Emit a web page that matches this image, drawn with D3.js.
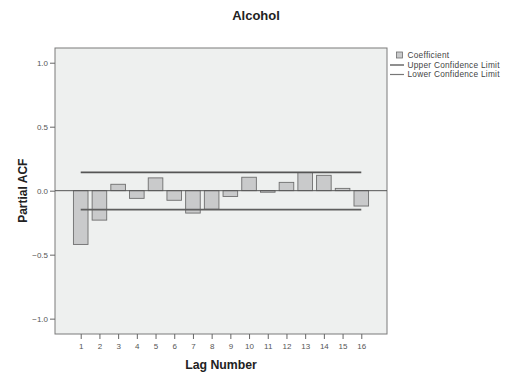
<!DOCTYPE html>
<html>
<head>
<meta charset="utf-8">
<script src="https://cdn.jsdelivr.net/npm/d3@7"></script>
<style>
  body { margin: 0; background: #fff; }
  text { font-family: "Liberation Sans", Arial, sans-serif; }
</style>
</head>
<body>
<div id="chart"></div>
<script>
// lag numbers and partial ACF coefficients
const lags = [1, 2, 3, 4, 5, 6, 7, 8, 9, 10, 11, 12, 13, 14, 15, 16]
const coefficients = [-0.42, -0.23, 0.05, -0.06, 0.10, -0.075, -0.175, -0.145, -0.045, 0.105, -0.012, 0.065, 0.142, 0.12, 0.018, -0.12]
const upperLimit = [0.143]
const lowerLimit = [-0.148]
const yTicks = [-1.0, -0.5, 0.0, 0.5, 1.0]
const legendItems = ['Coefficient', 'Upper Confidence Limit', 'Lower Confidence Limit']

const width = 508, height = 377
const margin = { left: 55, top: 48, right: 121, bottom: 43 }

const svg = d3.select('#chart')
    .append('svg')
    .attr('width', width)
    .attr('height', height)

const x = d3.scalePoint()
    .domain(lags)
    .range([margin.left, width - margin.right])
    .padding(1.375)

const y = d3.scaleLinear()
    .domain([-1.12, 1.115])
    .range([height - margin.bottom, margin.top])

const barW = x.step() * 0.78

// plot background
svg.append('rect')
    .attr('x', margin.left)
    .attr('y', margin.top)
    .attr('width', width - margin.left - margin.right)
    .attr('height', height - margin.top - margin.bottom)
    .attr('fill', '#eef0ef')
    .attr('stroke', '#7a7a7a')
    .attr('stroke-width', 1)

// bars
svg.append('g')
    .selectAll('rect')
    .data(coefficients)
    .join('rect')
    .attr('x', (d, i) => x(lags[i]) - barW / 2)
    .attr('y', d => y(Math.max(0, d)))
    .attr('width', barW)
    .attr('height', d => Math.max(1, Math.abs(y(d) - y(0))))
    .attr('fill', '#c9cacb')
    .attr('stroke', '#6e6e6e')
    .attr('stroke-width', 0.9)

// zero reference line
svg.append('line')
    .attr('x1', margin.left)
    .attr('x2', width - margin.right)
    .attr('y1', y(0))
    .attr('y2', y(0))
    .attr('stroke', '#555')
    .attr('stroke-width', 1)

// confidence limits
const limits = [
    { v: upperLimit[0], color: '#555' },
    { v: lowerLimit[0], color: '#5e5e5e' }
]
svg.append('g')
    .selectAll('line')
    .data(limits)
    .join('line')
    .attr('x1', x(lags[0]))
    .attr('x2', x(lags[lags.length - 1]))
    .attr('y1', d => y(d.v))
    .attr('y2', d => y(d.v))
    .attr('stroke', d => d.color)
    .attr('stroke-width', 1.6)

// axes
const yAxis = svg.append('g')
    .attr('transform', `translate(${margin.left},0)`)
    .call(d3.axisLeft(y).tickValues(yTicks).tickFormat(d3.format('.1f')).tickSize(5).tickPadding(2))
yAxis.select('.domain').remove()

const xAxis = svg.append('g')
    .attr('transform', `translate(0,${height - margin.bottom})`)
    .call(d3.axisBottom(x).tickSize(5).tickPadding(4))
xAxis.select('.domain').remove()

svg.selectAll('.tick line').attr('stroke', '#666')
svg.selectAll('.tick text')
    .attr('fill', '#555')
    .attr('font-size', 8)
    .attr('font-family', '"Liberation Sans", Arial, sans-serif')

// title and axis labels
svg.append('text')
    .attr('x', 256)
    .attr('y', 20)
    .attr('text-anchor', 'middle')
    .attr('font-size', 13)
    .attr('font-weight', 'bold')
    .attr('fill', '#222')
    .text('Alcohol')

svg.append('text')
    .attr('x', 221)
    .attr('y', 369)
    .attr('text-anchor', 'middle')
    .attr('font-size', 12.3)
    .attr('font-weight', 'bold')
    .attr('fill', '#222')
    .text('Lag Number')

svg.append('text')
    .attr('transform', `translate(27,${y(0)}) rotate(-90)`)
    .attr('text-anchor', 'middle')
    .attr('font-size', 12)
    .attr('font-weight', 'bold')
    .attr('fill', '#222')
    .text('Partial ACF')

// legend
const lg = svg.append('g').attr('transform', 'translate(390,52)')
lg.append('rect')
    .attr('x', 6.5)
    .attr('y', 0)
    .attr('width', 6)
    .attr('height', 6)
    .attr('fill', '#c9cacb')
    .attr('stroke', '#6e6e6e')
    .attr('stroke-width', 0.8)
lg.selectAll('line')
    .data(limits)
    .join('line')
    .attr('x1', 0)
    .attr('x2', 14)
    .attr('y1', (d, i) => 13 + i * 9.5)
    .attr('y2', (d, i) => 13 + i * 9.5)
    .attr('stroke', (d, i) => i === 0 ? '#444' : '#777')
    .attr('stroke-width', 1.2)
lg.selectAll('text')
    .data(legendItems)
    .join('text')
    .attr('x', 17.5)
    .attr('y', (d, i) => 6 + i * 9.5)
    .attr('font-size', 8.3)
    .attr('letter-spacing', 0.25)
    .attr('fill', '#444')
    .text(d => d)
</script>
</body>
</html>
